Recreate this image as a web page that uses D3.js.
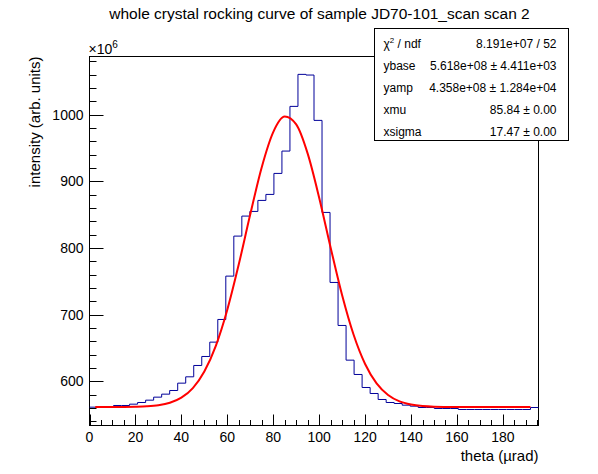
<!DOCTYPE html>
<html>
<head>
<meta charset="utf-8">
<script src="https://cdn.jsdelivr.net/npm/d3@7"></script>
<style>
  body { margin: 0; background: #fff; }
  svg { display: block; font-family: "Liberation Sans", Arial, Helvetica, sans-serif; }
</style>
</head>
<body>
<svg id="chart" width="598" height="474"></svg>
<script>
// histogram range (µrad) and bin contents (×10^6), 56 equal bins
const thetaRange = [0, 195.5];
const counts = [
  561.5, 561.5, 561.5, 564, 564, 566, 568.5, 572, 576.5, 581,
  586.5, 597.5, 607, 624, 637.5, 659, 693, 758, 818, 848,
  855, 871.5, 880.5, 912, 945.5, 1012.5, 1060.5, 1059.5, 991.5, 853.5,
  748.5, 684, 632, 610.5, 591, 582, 573, 568.5, 567, 564.5,
  563, 561, 561, 559.5, 559.5, 559.5, 558, 558, 558, 558,
  558, 558, 558, 558, 558, 561
];

// fitted curve
const fitTheta = [2.5, 10, 20, 25, 30, 35, 40, 45, 50, 55, 60, 65, 70, 75, 80, 85, 90,
  95, 100, 105, 110, 115, 120, 125, 130, 135, 140, 145, 150, 160, 170, 180, 192];
const fitValue = [561.8, 561.8, 562.2, 562.8, 564.4, 568.1, 575.7, 590.1, 614.9, 653.5,
  707.7, 775.7, 850.7, 921.3, 973.9, 997.2, 985.4, 941.6, 875.6, 800.6, 729.3, 670.0,
  626.2, 597.1, 579.7, 570.1, 565.4, 563.2, 562.3, 561.9, 561.8, 561.8, 561.8];

const yRange = [534, 1087.3];
const xTicks = [0, 20, 40, 60, 80, 100, 120, 140, 160, 180];
const yTicks = [600, 700, 800, 900, 1000];

const statNames = ['ndf', 'ybase', 'yamp', 'xmu', 'xsigma'];
const statValues = ['8.191e+07 / 52', '5.618e+08 \u00b1 4.411e+03', '4.358e+08 \u00b1 1.284e+04',
  '85.84 \u00b1 0.00', '17.47 \u00b1 0.00'];

const svg = d3.select('#chart');
const fL = 89.5, fR = 538.5, fT = 56.5, fB = 425.5;

const x = d3.scaleLinear().domain(thetaRange).range([fL, fR]);
const y = d3.scaleLinear().domain(yRange).range([fB, fT]);

svg.append('text')
  .attr('x', 319.5)
  .attr('y', 19)
  .attr('text-anchor', 'middle')
  .attr('font-size', 15.5)
  .text('whole crystal rocking curve of sample JD70-101_scan scan 2');

// frame
svg.append('rect')
  .attr('x', fL).attr('y', fT)
  .attr('width', fR - fL).attr('height', fB - fT)
  .attr('fill', 'none').attr('stroke', '#000');

// ticks
const gT = svg.append('g').attr('stroke', '#000');
d3.range(thetaRange[0], thetaRange[1], 5).forEach((t) => {
  const major = t % 20 === 0;
  gT.append('line')
    .attr('x1', Math.round(x(t)) + 0.5).attr('x2', Math.round(x(t)) + 0.5)
    .attr('y1', fB).attr('y2', fB - (major ? 11 : 5.5));
});
d3.range(540, yRange[1], 20).forEach((v) => {
  const major = v % 100 === 0;
  gT.append('line')
    .attr('x1', fL).attr('x2', fL + (major ? 14 : 7))
    .attr('y1', Math.round(y(v)) + 0.5).attr('y2', Math.round(y(v)) + 0.5);
});

const gLab = svg.append('g').attr('font-size', 14);
xTicks.forEach((t) => {
  gLab.append('text')
    .attr('x', x(t)).attr('y', fB + 16)
    .attr('text-anchor', 'middle')
    .text(t);
});
yTicks.forEach((v) => {
  gLab.append('text')
    .attr('x', fL - 6).attr('y', y(v) + 5)
    .attr('text-anchor', 'end')
    .text(v);
});

const exp = svg.append('text')
  .attr('x', fL - 1).attr('y', fT - 3)
  .attr('font-size', 14)
  .text('\u00d710');
exp.append('tspan').attr('font-size', 10).attr('dy', -6).text('6');

svg.append('text')
  .attr('x', fR).attr('y', fB + 35)
  .attr('text-anchor', 'end')
  .attr('font-size', 15)
  .text('theta (\u00b5rad)');

svg.append('text')
  .attr('transform', `translate(40,${fT}) rotate(-90)`)
  .attr('text-anchor', 'end')
  .attr('font-size', 15)
  .text('intensity (arb. units)');

// histogram as steps
const binW = (thetaRange[1] - thetaRange[0]) / counts.length;
const steps = [];
counts.forEach((c, i) => {
  steps.push([thetaRange[0] + i * binW, c]);
  steps.push([thetaRange[0] + (i + 1) * binW, c]);
});
svg.append('path')
  .attr('d', d3.line().x((d) => x(d[0])).y((d) => y(d[1]))(steps))
  .attr('fill', 'none')
  .attr('stroke', '#000099')
  .attr('stroke-width', 1);

// fit
svg.append('path')
  .attr('d', d3.line()
    .x((d, i) => x(fitTheta[i]))
    .y((d) => y(d))
    .curve(d3.curveMonotoneX)(fitValue))
  .attr('fill', 'none')
  .attr('stroke', '#ff0000')
  .attr('stroke-width', 2);

// stats box
const bx = 374.5, by = 28.5, bw = 194, bh = 112;
svg.append('rect')
  .attr('x', bx).attr('y', by).attr('width', bw).attr('height', bh)
  .attr('fill', '#fff').attr('stroke', '#000');

const gS = svg.append('g').attr('font-size', 12);
statNames.forEach((n, i) => {
  const yy = by + 19 + i * 22.2;
  const t = gS.append('text').attr('x', bx + 9).attr('y', yy);
  if (i === 0) {
    t.text('\u03c7');
    t.append('tspan').attr('font-size', 8).attr('dy', -5).text('2');
    t.append('tspan').attr('dy', 5).text(' / ' + n);
  } else {
    t.text(n);
  }
  gS.append('text')
    .attr('x', bx + bw - 12).attr('y', yy)
    .attr('text-anchor', 'end')
    .text(statValues[i]);
});
</script>
</body>
</html>
